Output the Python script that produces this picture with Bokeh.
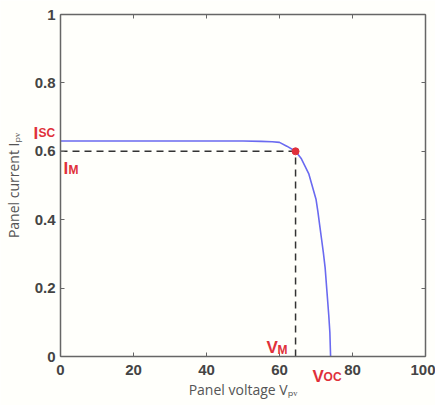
from bokeh.plotting import figure
from bokeh.models import Range1d, Label, FixedTicker, LinearAxis
from bokeh.embed import file_html
from bokeh.resources import INLINE

# I-V curve of the PV panel
voltage = [0, 10, 20, 30, 40, 50, 55, 58, 60, 62, 64.4, 66, 68, 70, 70.5, 71, 71.5, 72, 72.5, 73, 73.5, 73.8, 74]
current = [0.630, 0.630, 0.630, 0.630, 0.630, 0.630, 0.629, 0.628, 0.626, 0.615, 0.600, 0.578, 0.535,
           0.46, 0.425, 0.385, 0.345, 0.305, 0.26, 0.19, 0.12, 0.07, 0.0]

v_m = 64.4
i_m = 0.6
v_oc = 74
i_sc = 0.63

x_ticks = [0, 20, 40, 60, 80, 100]
y_ticks = [0, 0.2, 0.4, 0.6, 0.8, 1]
x_lim = (0, 100)
y_lim = (0, 1)

RED = "#e0303a"
BLUE = "#6a6af0"
GREY = "#666666"

# canvas and axes-box placement (pixels)
W, H = 435, 405
BOX_L, BOX_R, BOX_T, BOX_B = 60, 425, 14, 356
sx = (BOX_R - BOX_L) / (x_lim[1] - x_lim[0])
sy = (BOX_B - BOX_T) / (y_lim[1] - y_lim[0])
x_range = Range1d(x_lim[0] - BOX_L / sx, x_lim[1] + (W - BOX_R) / sx)
y_range = Range1d(y_lim[0] - (H - BOX_B) / sy, y_lim[1] + BOX_T / sy)

p = figure(width=W, height=H, output_backend="svg", toolbar_location=None,
           x_range=x_range, y_range=y_range,
           x_axis_location=None, y_axis_location=None, min_border=0)
p.background_fill_color = "#fffffb"
p.border_fill_color = "#fffffb"
p.grid.visible = False
p.outline_line_color = None


def style_axis(ax, labels=True):
    ax.axis_line_color = GREY
    ax.axis_line_width = 1.5
    ax.major_tick_line_color = GREY
    ax.major_tick_line_width = 1
    ax.major_tick_in = 4
    ax.major_tick_out = 0
    ax.minor_tick_line_color = None
    ax.major_label_text_font = "Liberation Sans"
    ax.major_label_text_font_style = "bold"
    ax.major_label_text_font_size = "15px"
    ax.major_label_text_color = "#444444" if labels else None
    ax.major_label_standoff = 5
    ax.axis_label_text_font = "Open Sans"
    ax.axis_label_text_font_style = "normal"
    ax.axis_label_text_font_size = "14px"
    ax.axis_label_text_color = "#555555"
    ax.axis_label_standoff = 6


xb = LinearAxis(fixed_location=y_lim[0], bounds=x_lim, ticker=FixedTicker(ticks=x_ticks),
                axis_label="Panel voltage V\u209a\u1d65")
yl = LinearAxis(fixed_location=x_lim[0], bounds=y_lim, ticker=FixedTicker(ticks=y_ticks),
                axis_label="Panel current I\u209a\u1d65",
                major_label_overrides={0: "0", 1: "1"})
xt = LinearAxis(fixed_location=y_lim[1], bounds=x_lim, ticker=FixedTicker(ticks=x_ticks))
yr = LinearAxis(fixed_location=x_lim[1], bounds=y_lim, ticker=FixedTicker(ticks=y_ticks))
style_axis(xb)
style_axis(yl)
style_axis(xt, labels=False)
style_axis(yr, labels=False)
xb.major_label_standoff = 8
xb.axis_label_standoff = 2
yl.axis_label_standoff = 9
p.add_layout(xb, "below")
p.add_layout(yl, "left")
p.add_layout(xt, "above")
p.add_layout(yr, "right")

# dashed MPP guide lines
p.line([x_lim[0], v_m], [i_m, i_m], line_color="#333333", line_width=1.5, line_dash="7 5")
p.line([v_m, v_m], [y_lim[0], i_m], line_color="#333333", line_width=1.5, line_dash="7 5")

# I-V curve
p.line(voltage, current, line_color=BLUE, line_width=1.6)

# MPP marker
p.scatter([v_m], [i_m], size=7, fill_color=RED, line_color=RED)


def sub_label(x, y, main, sub, xoff, yoff, sub_drop=0):
    big = Label(x=x, y=y, x_offset=xoff, y_offset=yoff, text=main, text_color=RED,
                text_font="Liberation Sans", text_font_style="bold", text_font_size="17px",
                text_baseline="alphabetic", text_align="left", level="overlay")
    w = 5 if main == "I" else 11
    small = Label(x=x, y=y, x_offset=xoff + w, y_offset=yoff - sub_drop, text=sub, text_color=RED,
                  text_font="Liberation Sans", text_font_style="bold", text_font_size="12px",
                  text_baseline="alphabetic", text_align="left", level="overlay")
    p.add_layout(big)
    p.add_layout(small)


sub_label(x_lim[0], i_sc, "I", "SC", -27, 8)
sub_label(x_lim[0], i_m, "I", "M", 3, -17, 2)
sub_label(v_m, y_lim[0], "V", "M", -29, 9, 2)
sub_label(v_oc, y_lim[0], "V", "OC", -18, -20)

open("out.html", "w").write(file_html(p, INLINE))
